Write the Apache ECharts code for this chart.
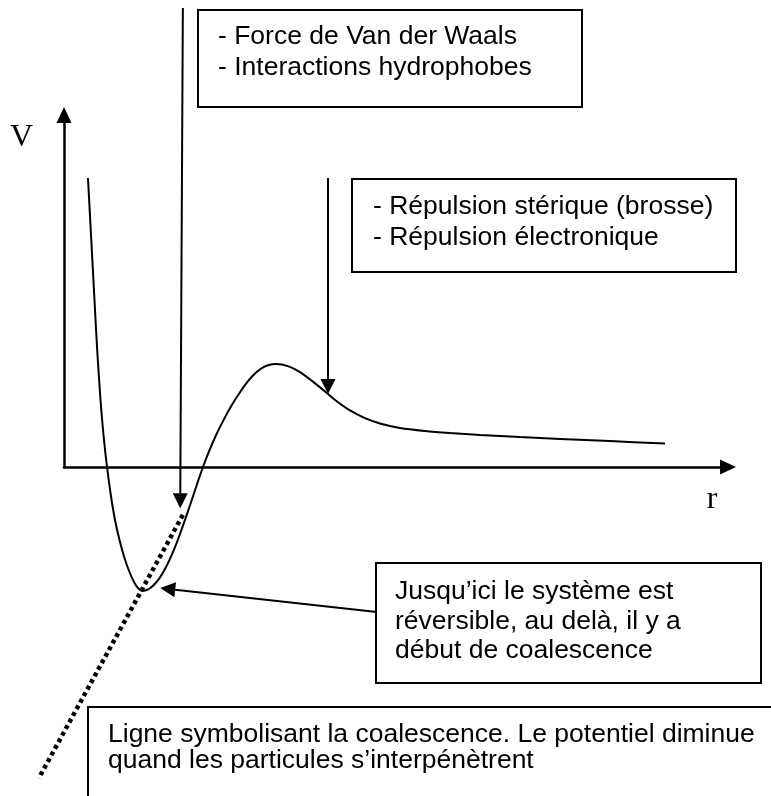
<!DOCTYPE html>
<html>
<head>
<meta charset="utf-8">
<script src="https://cdn.jsdelivr.net/npm/echarts@6/dist/echarts.min.js"></script>
<style>
  html, body { margin: 0; padding: 0; background: #ffffff; }
  #chart { width: 771px; height: 796px; }
</style>
</head>
<body>
<div id="chart"></div>
<script>
// Interaction potential V(r) between two particles, arbitrary units
const potentialR = [0.361, 0.411, 0.459, 0.500, 0.550, 0.595, 0.648, 0.705, 0.768, 0.836,
                    0.911, 0.986, 1.062, 1.114, 1.175, 1.235, 1.295, 1.370, 1.446, 1.521,
                    1.596, 1.672, 1.747, 1.822, 1.898, 2.003, 2.093, 2.184, 2.289, 2.410,
                    2.530, 2.651, 2.771, 2.892, 3.012, 3.133, 3.193, 3.373, 3.554, 3.735,
                    3.976, 4.096, 4.307, 4.533, 4.759, 5.060, 5.437, 5.813, 6.265, 6.867,
                    7.470, 8.223, 9.051];
const potentialV = [8.210, 6.449, 4.744, 3.324, 1.903, 0.909, 0.000, -0.795, -1.506, -2.074,
                    -2.585, -2.983, -3.295, -3.438, -3.523, -3.503, -3.446, -3.318, -3.134, -2.895,
                    -2.608, -2.276, -1.903, -1.503, -1.088, -0.491, 0.000, 0.443, 0.901, 1.361,
                    1.767, 2.125, 2.438, 2.685, 2.844, 2.918, 2.926, 2.866, 2.696, 2.446,
                    2.074, 1.884, 1.608, 1.389, 1.236, 1.108, 1.023, 0.966, 0.912, 0.852,
                    0.798, 0.736, 0.665];

// Coalescence line (passes through the primary minimum)
const coalescenceR = [1.79, -0.38];
const coalescenceV = [-1.36, -8.84];

// Annotation arrows: tail and tip, in the same (r, V) units
const arrowFromR = [1.79, 3.976, 4.71];
const arrowFromV = [13.04, 8.21, -4.12];
const arrowToR = [1.75, 3.976, 1.45];
const arrowToV = [-1.17, 2.074, -3.44];

// Axis names and notes
const axisNameR = 'r';
const axisNameV = 'V';
const vdwNote = ['- Force de Van der Waals', '- Interactions hydrophobes'];
const repulsionNote = ['- Répulsion stérique (brosse)', '- Répulsion électronique'];
const reversibleNote = ['Jusqu’ici le système est', 'réversible, au delà, il y a', 'début de coalescence'];
const coalescenceNote = ['Ligne symbolisant la coalescence. Le potentiel diminue', 'quand les particules s’interpénètrent'];

const serif = '"Liberation Serif", "Times New Roman", serif';
const sans = '"Liberation Sans", Arial, sans-serif';
const INK = '#000000';

const chart = echarts.init(document.getElementById('chart'), null, { renderer: 'canvas' });

const axisBase = {
  type: 'value',
  min: 0,
  max: 10,
  splitLine: { show: false },
  axisTick: { show: false },
  axisLabel: { show: false },
  axisLine: {
    show: true,
    onZero: false,
    symbol: ['none', 'triangle'],
    symbolSize: [15, 16],
    lineStyle: { color: INK, width: 2.5 }
  }
};

// A note: framed box with one or more lines of text
function noteBox(x, y, w, h, lines, textX, textY, lineHeight) {
  return {
    type: 'group',
    silent: true,
    z: 50,
    children: [
      { type: 'rect', shape: { x: x, y: y, width: w, height: h },
        style: { fill: '#ffffff', stroke: INK, lineWidth: 2 } },
      { type: 'text', x: textX, y: textY,
        style: { text: lines.join('\n'), fontFamily: sans, fontSize: 26.5, lineHeight: lineHeight,
                 fill: INK, align: 'left', verticalAlign: 'top' } }
    ]
  };
}

// Straight arrow with a filled triangular head whose tip sits on the target point
function renderArrow(params, api) {
  const from = api.coord([api.value(0), api.value(1)]);
  const to = api.coord([api.value(2), api.value(3)]);
  const dx = to[0] - from[0], dy = to[1] - from[1];
  const len = Math.sqrt(dx * dx + dy * dy);
  const ux = dx / len, uy = dy / len;
  const headLen = 15, headHalf = 7.5;
  const bx = to[0] - ux * headLen, by = to[1] - uy * headLen;
  return {
    type: 'group',
    children: [
      { type: 'line', shape: { x1: from[0], y1: from[1], x2: bx, y2: by },
        style: { stroke: INK, lineWidth: 2 } },
      { type: 'polygon',
        shape: { points: [[to[0], to[1]], [bx - uy * headHalf, by + ux * headHalf], [bx + uy * headHalf, by - ux * headHalf]] },
        style: { fill: INK } }
    ]
  };
}

// Heavy dotted segment
function renderDotted(params, api) {
  const from = api.coord([api.value(0), api.value(1)]);
  const to = api.coord([api.value(2), api.value(3)]);
  return {
    type: 'line',
    shape: { x1: from[0], y1: from[1], x2: to[0], y2: to[1] },
    style: { stroke: INK, lineWidth: 4.5, lineDash: [4, 3.5], lineCap: 'butt' }
  };
}

const option = {
  animation: false,
  backgroundColor: '#ffffff',
  grid: { left: 64, right: 43, top: 115, bottom: 329, outerBoundsMode: 'none' },
  xAxis: Object.assign({}, axisBase, {
    name: axisNameR,
    nameLocation: 'end',
    nameGap: -16,
    nameTextStyle: { fontFamily: serif, fontSize: 32, color: INK, align: 'center', verticalAlign: 'top', padding: [17, 0, 0, 0] }
  }),
  yAxis: Object.assign({}, axisBase, {
    name: axisNameV,
    nameLocation: 'end',
    nameGap: -23,
    nameTextStyle: { fontFamily: serif, fontSize: 32, color: INK, align: 'right', verticalAlign: 'middle', padding: [0, 31, 0, 0] }
  }),
  series: [
    {
      name: 'V(r)',
      type: 'line',
      data: potentialR.map((r, i) => [r, potentialV[i]]),
      smooth: 0.3,
      symbol: 'none',
      clip: false,
      silent: true,
      z: 3,
      lineStyle: { color: INK, width: 2 }
    },
    {
      name: 'coalescence',
      type: 'custom',
      clip: false,
      silent: true,
      z: 4,
      encode: { x: [0, 2], y: [1, 3] },
      data: [[coalescenceR[0], coalescenceV[0], coalescenceR[1], coalescenceV[1]]],
      renderItem: renderDotted
    },
    {
      name: 'annotations',
      type: 'custom',
      clip: false,
      silent: true,
      z: 5,
      encode: { x: [0, 2], y: [1, 3] },
      data: arrowFromR.map((r, i) => [r, arrowFromV[i], arrowToR[i], arrowToV[i]]),
      renderItem: renderArrow
    }
  ],
  graphic: {
    elements: [
      noteBox(198, 10, 384, 97, vdwNote, 218, 21.5, 31),
      noteBox(352, 179, 384, 93, repulsionNote, 373, 191.5, 31),
      noteBox(376, 563, 385, 120, reversibleNote, 395, 577, 29.5),
      noteBox(88, 707, 720, 130, coalescenceNote, 108, 722, 26)
    ]
  }
};

chart.setOption(option);
</script>
</body>
</html>
